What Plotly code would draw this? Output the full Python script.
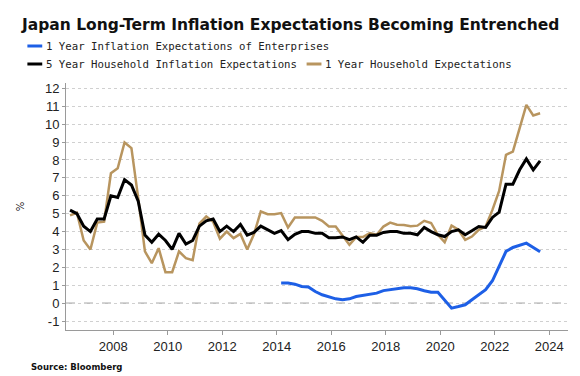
import pandas as pd
import plotly.graph_objects as go

# ---- data (quarterly, Jun 2006 .. Sep 2023) ----
dates = pd.date_range("2006-06-01", periods=70, freq="3MS")

household_5y = [
    5.2, 5.0, 4.3, 4.0, 4.7, 4.7, 6.0, 5.9, 6.9, 6.6,
    5.7, 3.8, 3.4, 3.85, 3.5, 3.0, 3.9, 3.3, 3.5, 4.3,
    4.6, 4.7, 4.0, 4.3, 4.0, 4.4, 3.8, 3.95, 4.3, 4.1,
    3.9, 4.05, 3.55, 3.85, 4.0, 4.0, 3.9, 3.9, 3.65, 3.65,
    3.7, 3.55, 3.7, 3.4, 3.8, 3.8, 3.95, 4.0, 4.0, 3.9,
    3.9, 3.82, 4.23, 4.0, 3.82, 3.72, 4.0, 4.1, 3.82, 4.04,
    4.28, 4.23, 4.79, 5.08, 6.65, 6.65, 7.45, 8.06, 7.45, 7.95,
]

household_1y = [
    4.9, 5.05, 3.5, 3.0, 4.5, 4.55, 7.26, 7.54, 8.98, 8.66,
    5.87, 2.89, 2.23, 3.07, 1.73, 1.73, 2.89, 2.51, 2.4, 4.45,
    4.84, 4.55, 3.6, 4.0, 3.63, 3.87, 3.0, 3.85, 5.12, 4.97,
    4.97, 5.03, 4.23, 4.79, 4.79, 4.79, 4.79, 4.6, 4.28, 4.28,
    3.78, 3.26, 3.69, 3.69, 3.91, 3.82, 4.28, 4.5, 4.38, 4.37,
    4.3, 4.33, 4.6, 4.48, 3.82, 3.41, 4.33, 4.1, 3.54, 3.72,
    4.1, 4.28, 5.21, 6.27, 8.29, 8.47, 9.78, 11.08, 10.49, 10.61,
]

enterprise_1y = [None] * 31 + [
    1.12, 1.12, 1.06, 0.93, 0.9, 0.65, 0.47, 0.34, 0.24,
    0.19, 0.24, 0.37, 0.43, 0.47, 0.56, 0.7, 0.75, 0.78, 0.86,
    0.86, 0.8, 0.69, 0.61, 0.61, 0.19, -0.28, -0.19, -0.09, 0.19,
    0.47, 0.75, 1.25, 2.05, 2.89, 3.11, 3.22, 3.35, 3.11, 2.87,
]

series_names = [
    "1 Year Inflation Expectations of Enterprises",
    "5 Year Household Inflation Expectations",
    "1 Year Household Expectations",
]
series_colors = ["#1d5fe6", "#000000", "#b8955f"]

y_tickvals = list(range(-1, 13))
y_ticktext = [str(v).replace("\u2212", "-") for v in y_tickvals]
x_tickvals = ["2008-01-01", "2010-01-01", "2012-01-01", "2014-01-01", "2016-01-01",
              "2018-01-01", "2020-01-01", "2022-01-01", "2024-01-01"]
x_ticktext = ["2008", "2010", "2012", "2014", "2016", "2018", "2020", "2022", "2024"]

# ---- figure ----
W, H = 580, 376
ML, MR, MT, MB = 53, 20, 75, 54
PW, PH = W - ML - MR, H - MT - MB


def px_x(px):
    return (px - ML) / PW


def px_y(py):
    return (H - MB - py) / PH


fig = go.Figure()
fig.add_trace(go.Scatter(x=dates, y=enterprise_1y, mode="lines", name=series_names[0],
                         line=dict(color=series_colors[0], width=3)))
fig.add_trace(go.Scatter(x=dates, y=household_1y, mode="lines", name=series_names[2],
                         line=dict(color=series_colors[2], width=2.5)))
fig.add_trace(go.Scatter(x=dates, y=household_5y, mode="lines", name=series_names[1],
                         line=dict(color=series_colors[1], width=3)))

shapes = [
    dict(type="line", xref="paper", x0=0, x1=1, yref="y", y0=0, y1=0,
         line=dict(color="#aaaaaa", width=1.2, dash="dash"), layer="below"),
]

# manual legend
leg_font = dict(family="DejaVu Sans Mono", size=10.7, color="#222222")
legend_rows = [
    (14, 38, 0),
    (14, 56, 1),
    (296, 56, 2),
]
annotations = []
for sx, sy, idx in legend_rows:
    shapes.append(dict(type="line", xref="paper", yref="paper",
                       x0=px_x(sx), x1=px_x(sx + 15), y0=px_y(sy), y1=px_y(sy),
                       line=dict(color=series_colors[idx], width=3)))
    annotations.append(dict(xref="paper", yref="paper", x=px_x(sx + 17), y=px_y(sy),
                            xanchor="left", yanchor="middle", showarrow=False,
                            text=series_names[idx], font=leg_font))

annotations.append(dict(xref="paper", yref="paper", x=px_x(16), y=px_y(359),
                        xanchor="left", yanchor="middle", showarrow=False,
                        text="<b>Source: Bloomberg</b>",
                        font=dict(family="DejaVu Sans", size=8.5, color="#111111")))

fig.update_layout(
    width=W, height=H,
    margin=dict(l=ML, r=MR, t=MT, b=MB),
    paper_bgcolor="white", plot_bgcolor="white",
    showlegend=False,
    title=dict(text="<b>Japan Long-Term Inflation Expectations Becoming Entrenched</b>",
               x=14 / W, xref="container", xanchor="left",
               y=1 - 17 / H, yref="container", yanchor="middle",
               font=dict(family="DejaVu Sans", size=15.5, color="#111111")),
    xaxis=dict(type="date", range=["2006-04-08", "2024-09-09"],
               tickvals=x_tickvals, ticktext=x_ticktext,
               showgrid=False, zeroline=False,
               showline=True, linecolor="#9a9a9a", linewidth=1,
               ticks="outside", ticklen=4, tickcolor="#9a9a9a",
               tickfont=dict(family="Liberation Sans", size=13, color="#222222")),
    yaxis=dict(range=[-1.5, 12.3], tickvals=y_tickvals, ticktext=y_ticktext,
               showgrid=True, gridcolor="#d0d0d0", griddash="dot", gridwidth=1,
               zeroline=False,
               showline=True, linecolor="#9a9a9a", linewidth=1,
               ticks="outside", ticklen=3, tickcolor="#9a9a9a",
               tickfont=dict(family="Liberation Sans", size=13, color="#222222"),
               title=dict(text="%", standoff=18,
                          font=dict(family="DejaVu Sans", size=10, color="#222222"))),
    shapes=shapes,
    annotations=annotations,
)

fig.write_html("out.html")
